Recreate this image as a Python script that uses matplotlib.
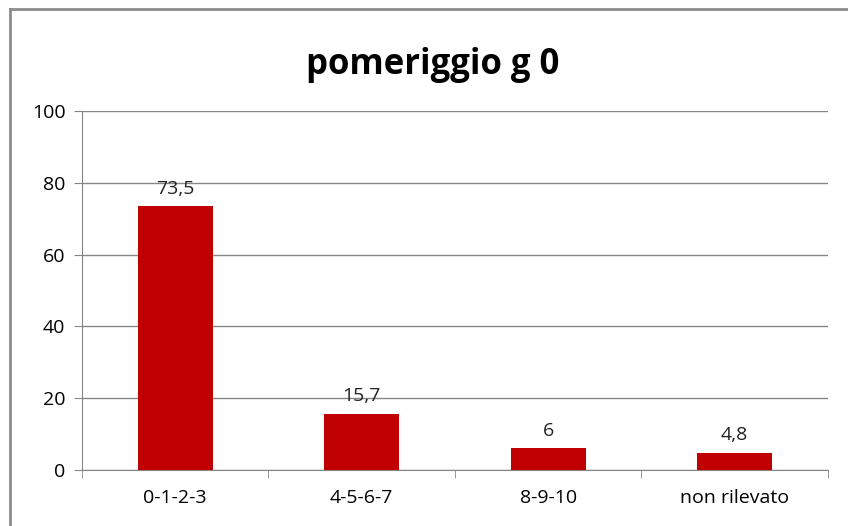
import matplotlib.pyplot as plt
from matplotlib.lines import Line2D

# dati del grafico
categorie = ['0-1-2-3', '4-5-6-7', '8-9-10', 'non rilevato']
valori = [73.5, 15.7, 6, 4.8]
etichette = ['73,5', '15,7', '6', '4,8']

plt.rcParams['font.family'] = ['Open Sans', 'DejaVu Sans']

fig = plt.figure(figsize=(8.48, 5.26), dpi=100)
ax = fig.add_axes([0.0967, 0.1065, 0.8797, 0.6825])

x = range(len(categorie))
ax.bar(x, valori, width=0.4, color='#C00000', zorder=3)

for i, (v, t) in enumerate(zip(valori, etichette)):
    ax.annotate(t, (i, v), xytext=(0, 6), textcoords='offset points',
                ha='center', va='bottom', fontsize=14, color='#222222')

ax.set_xlim(-0.5, len(categorie) - 0.5)
ax.set_ylim(0, 100)
ax.set_yticks(range(0, 101, 20))
ax.set_xticks(x)
ax.set_xticklabels(categorie)

# tacche tra le categorie
ax.set_xticks([i - 0.5 for i in range(len(categorie) + 1)], minor=True)
ax.tick_params(axis='x', which='major', length=0, pad=14, labelsize=14)
ax.tick_params(axis='x', which='minor', length=6, color='#868686')
ax.tick_params(axis='y', length=6, color='#868686', labelsize=14, pad=6)

ax.grid(axis='y', color='#868686', linewidth=1, zorder=0)
for s in ['top', 'right']:
    ax.spines[s].set_visible(False)
ax.spines['left'].set_color('#868686')
ax.spines['bottom'].set_color('#868686')

fig.suptitle('pomeriggio g 0', fontsize=25, fontweight='bold', x=0.51, y=0.91)

# cornice del grafico
fig.add_artist(Line2D([10 / 848, 1], [1 - 9 / 526, 1 - 9 / 526], color='#8c8c8c', linewidth=2))
fig.add_artist(Line2D([10 / 848, 10 / 848], [0, 1 - 9 / 526], color='#8c8c8c', linewidth=2))

plt.savefig('out.png', dpi=100)
